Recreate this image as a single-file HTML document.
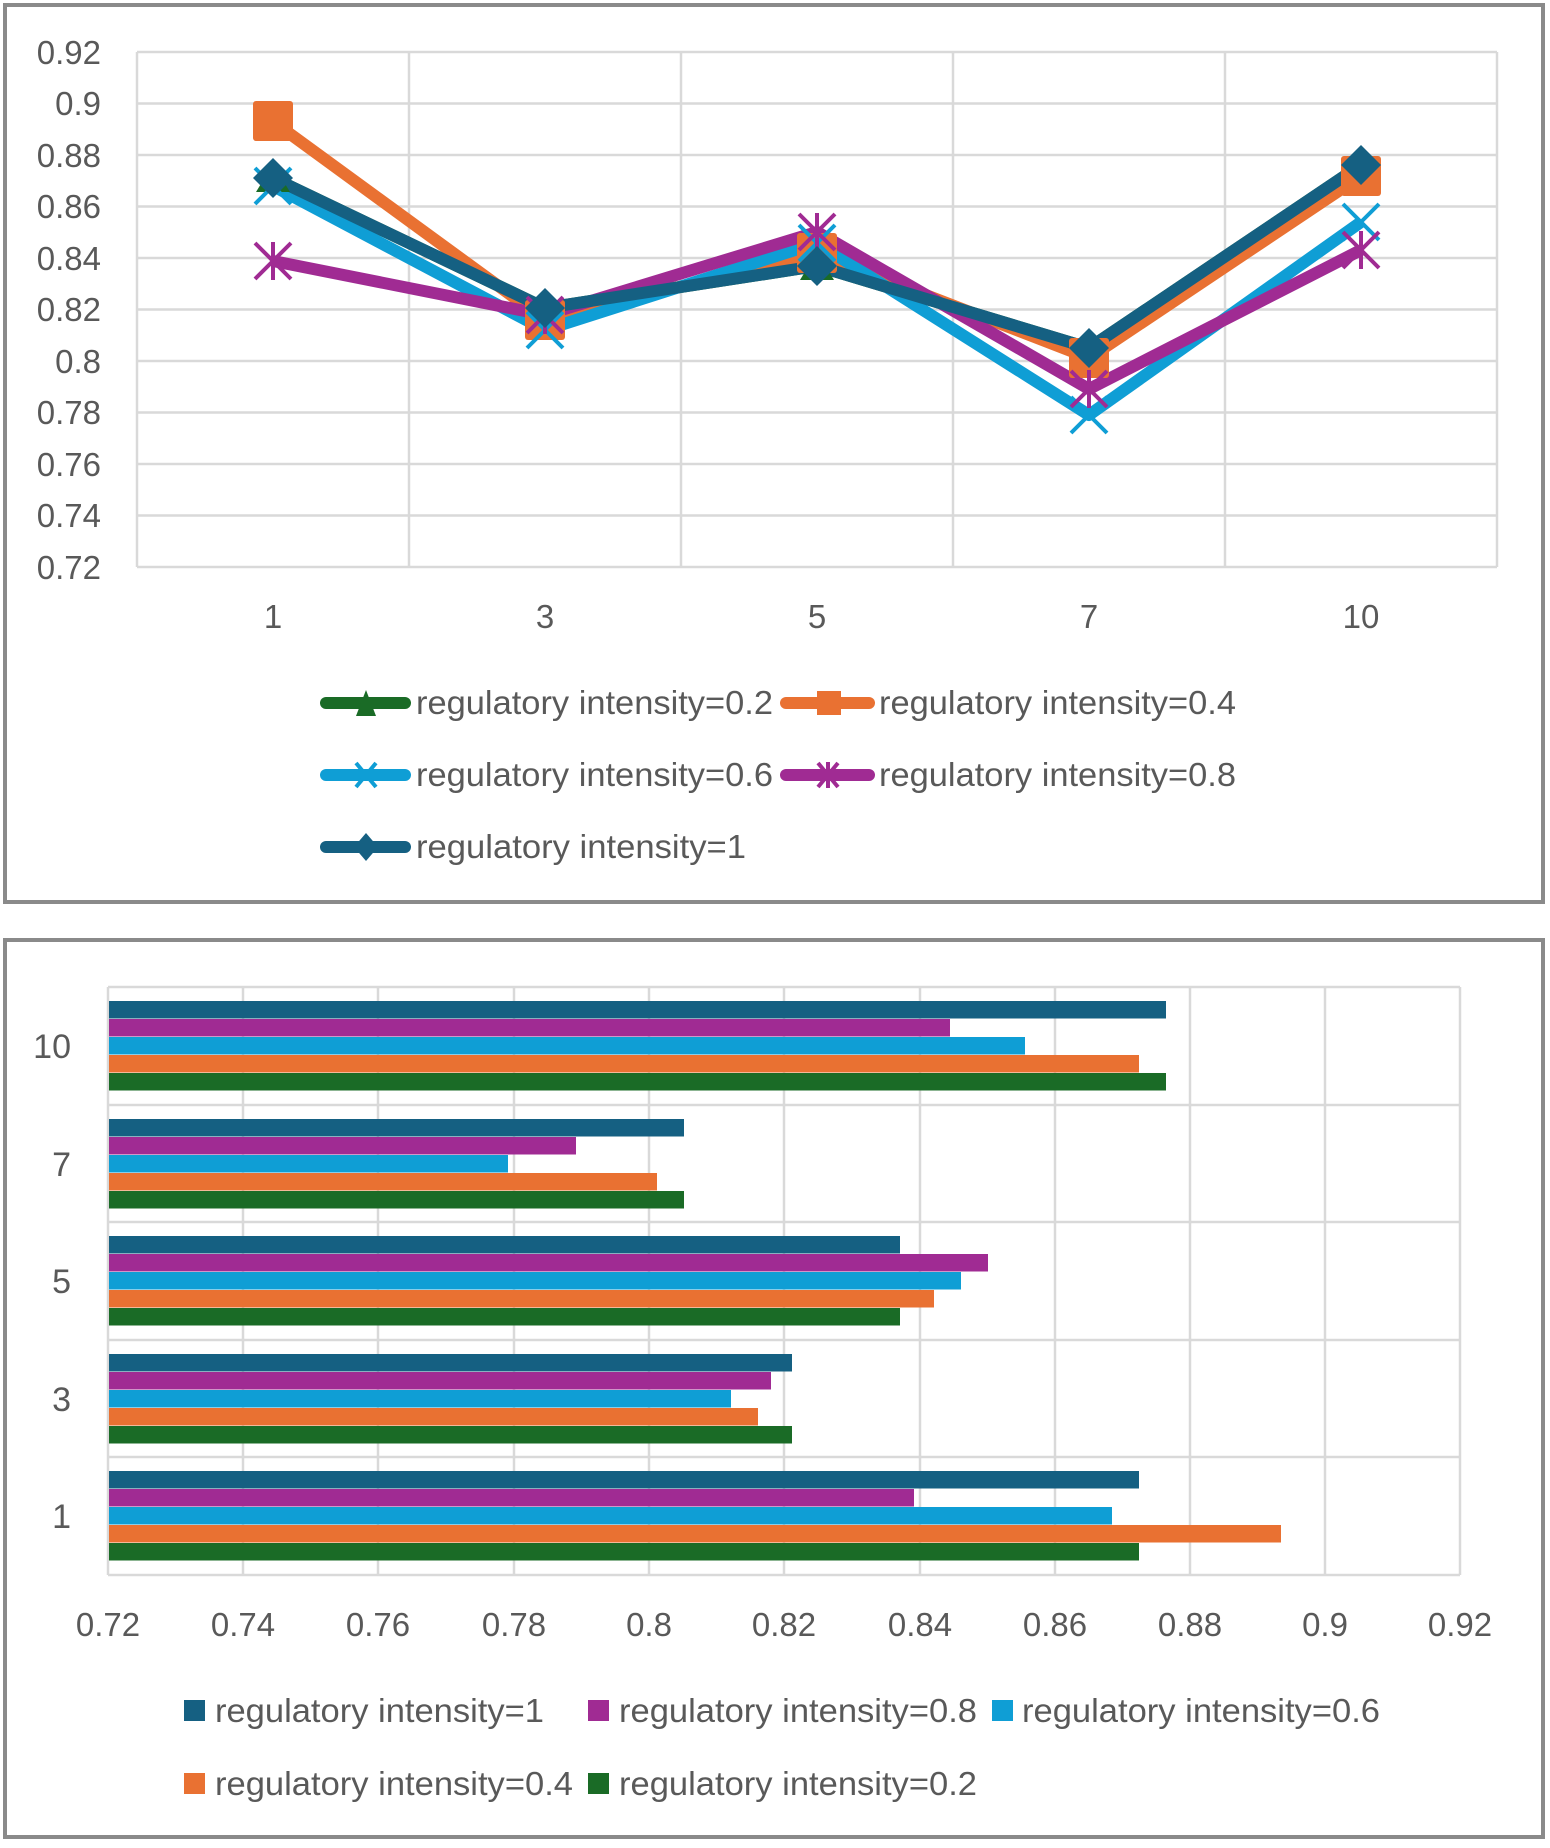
<!DOCTYPE html>
<html><head><meta charset="utf-8"><style>
body{margin:0;background:#fff}
svg text{font-family:"Liberation Sans",sans-serif;fill:#595959}
</style></head><body>
<svg width="1550" height="1843" viewBox="0 0 1550 1843" xmlns="http://www.w3.org/2000/svg">
<rect x="0" y="0" width="1550" height="1843" fill="#fff"/>
<rect x="5" y="5" width="1538" height="897" fill="#fff" stroke="#8a8a8a" stroke-width="4"/>
<rect x="5" y="940" width="1538" height="897" fill="#fff" stroke="#8a8a8a" stroke-width="4"/>
<g stroke="#d9d9d9" stroke-width="2.5" fill="none">
<line x1="137" y1="52" x2="1497" y2="52"/><line x1="137" y1="103.5" x2="1497" y2="103.5"/>
<line x1="137" y1="155" x2="1497" y2="155"/><line x1="137" y1="206.5" x2="1497" y2="206.5"/>
<line x1="137" y1="258" x2="1497" y2="258"/><line x1="137" y1="309.5" x2="1497" y2="309.5"/>
<line x1="137" y1="361" x2="1497" y2="361"/><line x1="137" y1="412.5" x2="1497" y2="412.5"/>
<line x1="137" y1="464" x2="1497" y2="464"/><line x1="137" y1="515.5" x2="1497" y2="515.5"/>
<line x1="137" y1="567" x2="1497" y2="567"/>
<line x1="137" y1="52" x2="137" y2="567"/><line x1="409" y1="52" x2="409" y2="567"/>
<line x1="681" y1="52" x2="681" y2="567"/><line x1="953" y1="52" x2="953" y2="567"/>
<line x1="1225" y1="52" x2="1225" y2="567"/><line x1="1497" y1="52" x2="1497" y2="567"/>
</g>
<g font-size="33" text-anchor="end">
<text x="101" y="64">0.92</text><text x="101" y="115">0.9</text><text x="101" y="167">0.88</text>
<text x="101" y="218">0.86</text><text x="101" y="270">0.84</text><text x="101" y="321">0.82</text>
<text x="101" y="373">0.8</text><text x="101" y="424">0.78</text><text x="101" y="476">0.76</text>
<text x="101" y="527">0.74</text><text x="101" y="579">0.72</text>
</g>
<g font-size="33" text-anchor="middle">
<text x="273" y="628">1</text><text x="545" y="628">3</text><text x="817" y="628">5</text><text x="1089" y="628">7</text><text x="1361" y="628">10</text>
</g>
<g fill="none" stroke-width="12" stroke-linejoin="round">
<polyline stroke="#1a6b26" points="273,178 545,308 817,266 1089,348 1361,165"/>
<polyline stroke="#e97132" points="273,121.5 545,320 817,253 1089,358 1361,176"/>
<polyline stroke="#0f9ed5" points="273,186 545,330 817,243 1089,415 1361,222"/>
<polyline stroke="#a02b93" points="273,261 545,315 817,232 1089,389 1361,250"/>
<polyline stroke="#156082" points="273,178 545,308 817,266 1089,348 1361,165"/>
</g>
<g fill="#1a6b26"><polygon points="273,164 256,192 290,192"/><polygon points="545,294 528,322 562,322"/><polygon points="817,252 800,280 834,280"/><polygon points="1089,334 1072,362 1106,362"/><polygon points="1361,151 1344,179 1378,179"/></g>
<g fill="#e97132"><rect x="253" y="101" width="40" height="40" rx="3"/><rect x="525" y="300" width="40" height="40" rx="3"/><rect x="797" y="233" width="40" height="40" rx="3"/><rect x="1069" y="338" width="40" height="40" rx="3"/><rect x="1341" y="156" width="40" height="40" rx="3"/></g>
<g stroke="#0f9ed5" stroke-width="4"><path d="M255 168 L291 204 M291 168 L255 204"/><path d="M527 312 L563 348 M563 312 L527 348"/><path d="M799 225 L835 261 M835 225 L799 261"/><path d="M1071 397 L1107 433 M1107 397 L1071 433"/><path d="M1343 204 L1379 240 M1379 204 L1343 240"/></g>
<g stroke="#a02b93" stroke-width="4"><path d="M255 243 L291 279 M291 243 L255 279 M273 242 V280"/><path d="M527 297 L563 333 M563 297 L527 333 M545 296 V334"/><path d="M799 214 L835 250 M835 214 L799 250 M817 213 V251"/><path d="M1071 371 L1107 407 M1107 371 L1071 407 M1089 370 V408"/><path d="M1343 232 L1379 268 M1379 232 L1343 268 M1361 231 V269"/></g>
<g fill="#156082"><polygon points="273,158 293,178 273,198 253,178"/><polygon points="545,288 565,308 545,328 525,308"/><polygon points="817,246 837,266 817,286 797,266"/><polygon points="1089,328 1109,348 1089,368 1069,348"/><polygon points="1361,145 1381,165 1361,185 1341,165"/></g>
<g stroke-width="12" stroke-linecap="round">
<line x1="326" y1="703" x2="405" y2="703" stroke="#1a6b26"/>
<line x1="786" y1="703" x2="869" y2="703" stroke="#e97132"/>
<line x1="326" y1="775" x2="405" y2="775" stroke="#0f9ed5"/>
<line x1="786" y1="775" x2="869" y2="775" stroke="#a02b93"/>
<line x1="326" y1="847" x2="405" y2="847" stroke="#156082"/>
</g>
<polygon points="366,690 356,716 376,716" fill="#1a6b26"/>
<rect x="817" y="691" width="24" height="24" fill="#e97132"/>
<path d="M356 763 L376 787 M376 763 L356 787" stroke="#0f9ed5" stroke-width="4"/>
<path d="M818 763 L838 787 M838 763 L818 787 M828 762 V788" stroke="#a02b93" stroke-width="4"/>
<polygon points="366,833 378,847 366,861 354,847" fill="#156082"/>
<g font-size="33">
<text x="416" y="714" textLength="357" lengthAdjust="spacingAndGlyphs">regulatory intensity=0.2</text>
<text x="879" y="714" textLength="357" lengthAdjust="spacingAndGlyphs">regulatory intensity=0.4</text>
<text x="416" y="786" textLength="357" lengthAdjust="spacingAndGlyphs">regulatory intensity=0.6</text>
<text x="879" y="786" textLength="357" lengthAdjust="spacingAndGlyphs">regulatory intensity=0.8</text>
<text x="416" y="858" textLength="330" lengthAdjust="spacingAndGlyphs">regulatory intensity=1</text>
</g>
<g stroke="#d9d9d9" stroke-width="2.5">
<line x1="108" y1="987" x2="1460" y2="987"/><line x1="108" y1="1105" x2="1460" y2="1105"/>
<line x1="108" y1="1222" x2="1460" y2="1222"/><line x1="108" y1="1340" x2="1460" y2="1340"/>
<line x1="108" y1="1457" x2="1460" y2="1457"/><line x1="108" y1="1575" x2="1460" y2="1575"/>
<line x1="108" y1="987" x2="108" y2="1575"/><line x1="243" y1="987" x2="243" y2="1575"/>
<line x1="378" y1="987" x2="378" y2="1575"/><line x1="514" y1="987" x2="514" y2="1575"/>
<line x1="649" y1="987" x2="649" y2="1575"/><line x1="784" y1="987" x2="784" y2="1575"/>
<line x1="920" y1="987" x2="920" y2="1575"/><line x1="1055" y1="987" x2="1055" y2="1575"/>
<line x1="1190" y1="987" x2="1190" y2="1575"/><line x1="1325" y1="987" x2="1325" y2="1575"/>
<line x1="1460" y1="987" x2="1460" y2="1575"/>
</g>
<g>
<rect x="109" y="1001" width="1057" height="17.5" fill="#156082"/>
<rect x="109" y="1019" width="841" height="17.5" fill="#a02b93"/>
<rect x="109" y="1037" width="916" height="17.5" fill="#0f9ed5"/>
<rect x="109" y="1055" width="1030" height="17.5" fill="#e97132"/>
<rect x="109" y="1073" width="1057" height="17.5" fill="#1a6b26"/>
<rect x="109" y="1119" width="575" height="17.5" fill="#156082"/>
<rect x="109" y="1137" width="467" height="17.5" fill="#a02b93"/>
<rect x="109" y="1155" width="399" height="17.5" fill="#0f9ed5"/>
<rect x="109" y="1173" width="548" height="17.5" fill="#e97132"/>
<rect x="109" y="1191" width="575" height="17.5" fill="#1a6b26"/>
<rect x="109" y="1236" width="791" height="17.5" fill="#156082"/>
<rect x="109" y="1254" width="879" height="17.5" fill="#a02b93"/>
<rect x="109" y="1272" width="852" height="17.5" fill="#0f9ed5"/>
<rect x="109" y="1290" width="825" height="17.5" fill="#e97132"/>
<rect x="109" y="1308" width="791" height="17.5" fill="#1a6b26"/>
<rect x="109" y="1354" width="683" height="17.5" fill="#156082"/>
<rect x="109" y="1372" width="662" height="17.5" fill="#a02b93"/>
<rect x="109" y="1390" width="622" height="17.5" fill="#0f9ed5"/>
<rect x="109" y="1408" width="649" height="17.5" fill="#e97132"/>
<rect x="109" y="1426" width="683" height="17.5" fill="#1a6b26"/>
<rect x="109" y="1471" width="1030" height="17.5" fill="#156082"/>
<rect x="109" y="1489" width="805" height="17.5" fill="#a02b93"/>
<rect x="109" y="1507" width="1003" height="17.5" fill="#0f9ed5"/>
<rect x="109" y="1525" width="1172" height="17.5" fill="#e97132"/>
<rect x="109" y="1543" width="1030" height="17.5" fill="#1a6b26"/>
</g>
<g font-size="34" text-anchor="end">
<text x="71" y="1058">10</text><text x="71" y="1176">7</text><text x="71" y="1293">5</text><text x="71" y="1411">3</text><text x="71" y="1528">1</text>
</g>
<g font-size="33" text-anchor="middle">
<text x="108" y="1636">0.72</text><text x="243" y="1636">0.74</text><text x="378" y="1636">0.76</text>
<text x="514" y="1636">0.78</text><text x="649" y="1636">0.8</text><text x="784" y="1636">0.82</text>
<text x="920" y="1636">0.84</text><text x="1055" y="1636">0.86</text><text x="1190" y="1636">0.88</text>
<text x="1325" y="1636">0.9</text><text x="1460" y="1636">0.92</text>
</g>
<rect x="184" y="1700" width="21" height="21" fill="#156082"/>
<rect x="588" y="1700" width="21" height="21" fill="#a02b93"/>
<rect x="992" y="1700" width="21" height="21" fill="#0f9ed5"/>
<rect x="184" y="1773" width="21" height="21" fill="#e97132"/>
<rect x="588" y="1773" width="21" height="21" fill="#1a6b26"/>
<g font-size="33">
<text x="215" y="1722" textLength="329" lengthAdjust="spacingAndGlyphs">regulatory intensity=1</text>
<text x="619" y="1722" textLength="358" lengthAdjust="spacingAndGlyphs">regulatory intensity=0.8</text>
<text x="1022" y="1722" textLength="358" lengthAdjust="spacingAndGlyphs">regulatory intensity=0.6</text>
<text x="215" y="1795" textLength="358" lengthAdjust="spacingAndGlyphs">regulatory intensity=0.4</text>
<text x="619" y="1795" textLength="358" lengthAdjust="spacingAndGlyphs">regulatory intensity=0.2</text>
</g>
</svg>
</body></html>
